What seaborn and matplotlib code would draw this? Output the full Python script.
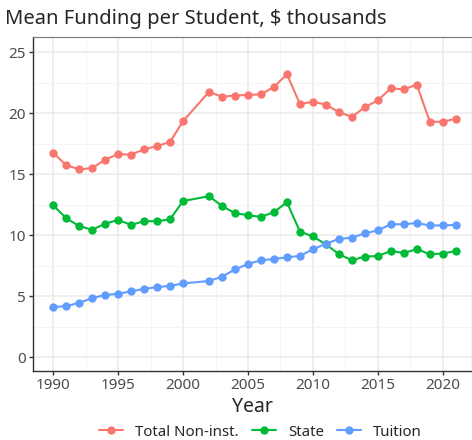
import pandas as pd
import matplotlib.pyplot as plt
import seaborn as sns
from matplotlib.ticker import MultipleLocator

# Datos (2001 no aparece)
years = [1990, 1991, 1992, 1993, 1994, 1995, 1996, 1997, 1998, 1999, 2000,
         2002, 2003, 2004, 2005, 2006, 2007, 2008, 2009, 2010, 2011, 2012,
         2013, 2014, 2015, 2016, 2017, 2018, 2019, 2020, 2021]
total_noninst = [16.75, 15.75, 15.4, 15.5, 16.2, 16.65, 16.6, 17.05, 17.3, 17.65, 19.35,
                 21.75, 21.35, 21.45, 21.5, 21.55, 22.15, 23.2, 20.75, 20.95, 20.7, 20.1,
                 19.7, 20.5, 21.05, 22.05, 21.95, 22.35, 19.3, 19.3, 19.55]
state = [12.45, 11.4, 10.75, 10.45, 10.95, 11.25, 10.85, 11.15, 11.15, 11.3, 12.8,
         13.2, 12.4, 11.8, 11.65, 11.5, 11.9, 12.7, 10.3, 9.9, 9.25, 8.45,
         7.95, 8.25, 8.3, 8.7, 8.55, 8.85, 8.45, 8.5, 8.7]
tuition = [4.1, 4.2, 4.45, 4.85, 5.1, 5.2, 5.4, 5.6, 5.75, 5.85, 6.05,
           6.25, 6.6, 7.2, 7.65, 7.95, 8.05, 8.2, 8.3, 8.85, 9.3, 9.7,
           9.8, 10.15, 10.4, 10.9, 10.9, 11.0, 10.8, 10.8, 10.85]
series_names = ['Total Non-inst.', 'State', 'Tuition']
colors = ['#F8766D', '#00BA38', '#619CFF']

df = pd.DataFrame({'Year': years, series_names[0]: total_noninst,
                   series_names[1]: state, series_names[2]: tuition})
df = df.melt(id_vars='Year', var_name='serie', value_name='valor')

sns.set_style('white')
plt.rcParams['font.family'] = ['Noto Sans', 'DejaVu Sans']

fig = plt.figure(figsize=(4.72, 4.40), dpi=100)
ax = fig.add_axes([0.07, 0.157, 0.93, 0.759])

sns.lineplot(data=df, x='Year', y='valor', hue='serie', hue_order=series_names,
             palette=colors, marker='o', markersize=6, markeredgewidth=0,
             linewidth=1.5, ax=ax)

ax.set_xlim(1988.45, 2022.25)
ax.set_ylim(-1.12, 26.25)
ax.xaxis.set_major_locator(MultipleLocator(5))
ax.xaxis.set_minor_locator(MultipleLocator(2.5))
ax.yaxis.set_major_locator(MultipleLocator(5))
ax.yaxis.set_minor_locator(MultipleLocator(2.5))
ax.grid(which='major', color='#ebebeb', linewidth=1.1)
ax.grid(which='minor', color='#f3f3f3', linewidth=0.6)
ax.set_axisbelow(True)
for s in ['left', 'bottom']:
    ax.spines[s].set_color('#333333')
    ax.spines[s].set_linewidth(1.0)
for s in ['top', 'right']:
    ax.spines[s].set_color('#777777')
    ax.spines[s].set_linewidth(0.8)
ax.tick_params(which='major', length=3, width=1, color='#333333',
               labelsize=11, labelcolor='#4d4d4d', left=True, bottom=True, pad=2)
ax.tick_params(which='minor', length=0)

ax.set_xlabel('Year', fontsize=14, labelpad=3)
ax.set_ylabel('')
fig.text(0.01, 0.957, 'Mean Funding per Student, $ thousands', fontsize=14.5,
         ha='left', va='center')

ax.legend(loc='center', bbox_to_anchor=(0.518, -0.183), ncol=3, frameon=False,
          fontsize=10.8, title=None, handlelength=1.6, columnspacing=0.9,
          handletextpad=0.8)

plt.savefig('out.png', dpi=100)
